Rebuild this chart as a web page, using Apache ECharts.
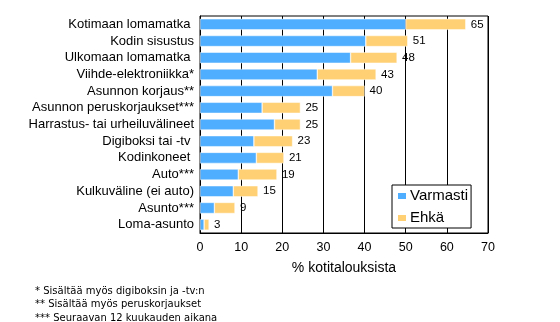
<!DOCTYPE html>
<html><head><meta charset="utf-8">
<script src="https://cdn.jsdelivr.net/npm/echarts@6/dist/echarts.min.js"></script>
<style>html,body{margin:0;padding:0;background:#fff}#c{width:560px;height:322px}</style>
</head><body><div id="c"></div>
<script>
const categories = ["Kotimaan lomamatka ", "Kodin sisustus", "Ulkomaan lomamatka ", "Viihde-elektroniikka*", "Asunnon korjaus**", "Asunnon peruskorjaukset***", "Harrastus- tai urheiluvälineet", "Digiboksi tai -tv ", "Kodinkoneet ", "Auto***", "Kulkuväline (ei auto)", "Asunto***", "Loma-asunto"];
const varmasti = [50, 40.3, 36.6, 28.5, 32.2, 15.1, 18.1, 13.1, 13.7, 9.3, 8.1, 3.5, 1.0];
const ehka = [14.6, 10.2, 11.3, 14.3, 7.8, 9.3, 6.3, 9.4, 6.7, 9.4, 6.0, 5.0, 1.2];
const totals = [65, 51, 48, 43, 40, 25, 25, 23, 21, 19, 15, 9, 3];
const footnotes = ["* Sisältää myös digiboksin ja -tv:n", "** Sisältää myös peruskorjaukset", "*** Seuraavan 12 kuukauden aikana"];
const font = "Liberation Sans, Arial, sans-serif";
const chart = echarts.init(document.getElementById('c'));
chart.setOption({
  animation: false,
  textStyle: {fontFamily: font},
  grid: {left: 200, right: 72, top: 16, bottom: 89, show: true, borderColor: '#000', borderWidth: 1},
  xAxis: {type: 'value', min: 0, max: 70, interval: 10,
    name: '% kotitalouksista', nameLocation: 'middle', nameGap: 28,
    nameTextStyle: {color: '#000', fontSize: 14, fontFamily: font},
    axisLine: {show: true, lineStyle: {color: '#000'}},
    axisTick: {show: false},
    axisLabel: {color: '#000', fontSize: 12.5, margin: 8, fontFamily: font},
    splitLine: {show: true, lineStyle: {color: '#000', width: 1}}},
  yAxis: {type: 'category', data: categories, inverse: true,
    axisLine: {show: true, lineStyle: {color: '#000'}},
    axisTick: {show: false},
    axisLabel: {color: '#000', fontSize: 13, margin: 6, fontFamily: font, interval: 0}},
  legend: {orient: 'vertical', left: 392, top: 185,
    backgroundColor: '#fff', borderColor: '#000', borderWidth: 1,
    padding: [3, 3, 2, 4], itemGap: 6, itemWidth: 10, itemHeight: 8, icon: 'rect',
    textStyle: {color: '#000', fontSize: 15, lineHeight: 16, fontFamily: font, padding: [0, 0, 0, -2]},
    data: ['Varmasti', 'Ehkä']},
  series: [
    {name: 'Varmasti', type: 'bar', stack: 's', data: varmasti, barWidth: '66%',
      itemStyle: {color: '#4faeff', borderColor: '#fff', borderWidth: 0.5}},
    {name: 'Ehkä', type: 'bar', stack: 's', data: ehka, barWidth: '66%',
      itemStyle: {color: '#ffd074', borderColor: '#fff', borderWidth: 0.5},
      label: {show: true, position: 'right', distance: 5, color: '#000', fontSize: 11.5, fontFamily: font,
        formatter: p => String(totals[p.dataIndex])}}
  ],
  graphic: footnotes.map((t, i) => ({type: 'text', x: 35, y: 291 + i * 13.5,
    style: {text: t, fontSize: 10, fill: '#000', fontFamily: "DejaVu Sans, sans-serif", verticalAlign: 'middle'}}))
});
</script></body></html>
